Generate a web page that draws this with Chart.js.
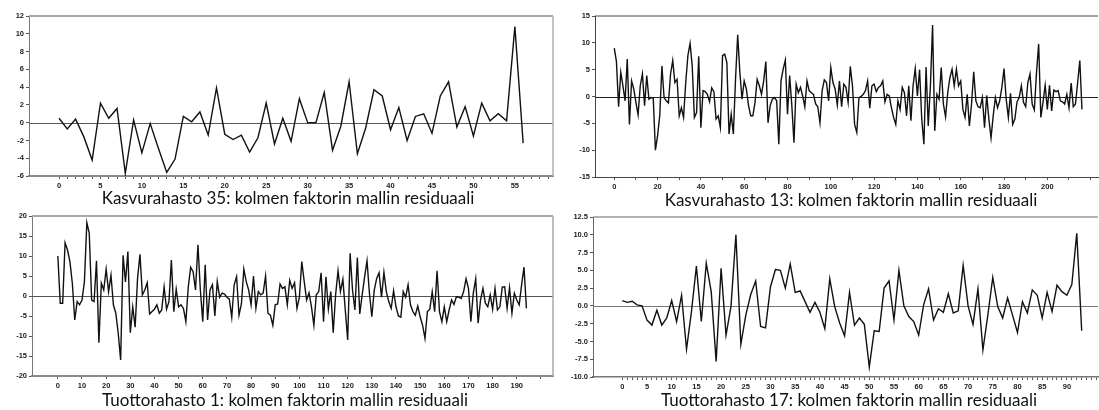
<!DOCTYPE html>
<html><head><meta charset="utf-8">
<script src="https://cdn.jsdelivr.net/npm/chart.js@4.4.1/dist/chart.umd.min.js"></script>
<style>
html,body{margin:0;padding:0;background:#fff;width:1099px;height:410px;overflow:hidden;position:relative}
.pc{position:absolute}
.pc canvas{display:block}
.ttl{position:absolute;font-family:Lato,'Open Sans',sans-serif;color:#111;white-space:nowrap}
</style></head><body>
<div class="pc" id="w1"><canvas id="c1"></canvas></div>
<div class="pc" id="w2"><canvas id="c2"></canvas></div>
<div class="pc" id="w3"><canvas id="c3"></canvas></div>
<div class="pc" id="w4"><canvas id="c4"></canvas></div>
<div class="ttl" id="t1"></div>
<div class="ttl" id="t2"></div>
<div class="ttl" id="t3"></div>
<div class="ttl" id="t4"></div>
<script>
// ---- data ----
const titles = [
  'Kasvurahasto 35: kolmen faktorin mallin residuaali',
  'Kasvurahasto 13: kolmen faktorin mallin residuaali',
  'Tuottorahasto 1: kolmen faktorin mallin residuaali',
  'Tuottorahasto 17: kolmen faktorin mallin residuaali'
];
const kasvu35Residuals = [0.5,-0.7,0.4,-1.6,-4.2,2.2,0.5,1.6,-5.7,0.3,
  -3.4,-0.1,-2.9,-5.6,-4.1,0.7,0.1,1.2,-1.4,3.9,
  -1.3,-1.9,-1.4,-3.3,-1.7,2.2,-2.4,0.5,-2.1,2.7,
  0,0,3.4,-3.1,-0.4,4.6,-3.5,-0.6,3.7,3.0,
  -0.8,1.7,-2.0,0.7,1.0,-1.2,3.0,4.6,-0.5,1.8,
  -1.5,2.2,0.2,1.0,0.2,10.8,-2.3];
const kasvu13Residuals = [9.0,6.5,-1.9,4.5,2.0,-0.8,7.0,-5.2,2.9,1.4,
  -1.1,-3.4,2.0,4.2,-1.7,3.9,-0.5,-0.2,-0.3,-10.0,
  -7.3,-3.6,5.7,-0.2,-0.8,-1.2,4.2,6.7,2.6,3.2,
  -3.6,-2.1,-3.9,2.6,7.6,9.9,5.7,-3.9,-3.0,7.5,
  -5.8,1.1,0.9,0.4,-1.0,1.6,0.9,-4.2,-3.6,-5.8,
  7.6,7.9,6.3,-7.0,-3.3,-7.0,3.2,11.5,4.5,-0.5,
  2.9,1.4,-1.7,-3.6,-3.6,-1.1,3.2,2.0,0.4,2.9,
  6.5,-4.9,-1.7,-0.5,-0.2,-0.8,-8.9,2.9,5.1,6.8,
  -3.3,3.9,-1.7,-8.6,2.3,0.7,1.7,0.1,-1.9,2.9,
  1.1,0.7,0.4,-1.4,-1.9,-4.9,1.1,3.1,2.6,-0.8,
  5.4,2.6,1.4,-1.6,2.9,-1.9,2.3,1.7,-1.1,5.6,
  2.0,-5.2,-6.7,-0.2,0.0,0.4,1.1,2.9,-2.2,2.0,
  2.3,0.9,1.7,2.0,2.9,-1.0,0.4,0.1,-2.1,-3.9,
  -5.2,-0.8,-2.4,1.7,0.7,-3.6,2.0,-4.5,2.0,5.2,
  0.1,5.0,-4.2,-8.9,5.5,-5.5,2.0,13.3,-6.4,0.4,
  -0.5,5.4,-1.4,-3.8,0.7,3.5,5.1,2.0,5.1,2.0,
  2.9,-2.4,-3.9,0.4,-5.5,-1.4,4.6,-0.8,-1.9,-2.1,
  -0.2,-5.8,0.2,-4.2,-7.7,-3.6,-0.2,-2.1,-0.8,1.7,
  5.2,-0.5,-3.9,0.6,-5.2,-4.2,-1.0,-0.2,2.0,-1.1,
  -1.9,2.6,4.2,-1.4,-2.5,4.5,9.8,-3.9,-1.1,2.1,
  -2.4,2.1,-2.7,1.2,0.9,1.1,-0.8,-1.0,-1.4,0.4,
  -2.1,2.5,-1.9,-1.4,2.6,6.7,-2.4];
const tuotto1Residuals = [10,-1.8,-1.8,13.3,11.5,8.6,3.2,-6,-1.4,-2.2,
  -1,3.6,18.3,15.7,-1,-1.4,8.8,-11.7,3.2,1.5,
  6.7,1.1,5.2,-2.2,-4.3,-9.3,-16,10.2,3.5,11.1,
  -9.2,-2.7,-7.8,4.4,10.4,0.3,1.5,3.3,-4.5,-3.9,
  -3.3,-2.2,-4.3,-3.5,2.3,-3.3,-1.4,9.0,-3.9,1.7,
  -2.7,-2.2,-3.1,-6.4,2.3,7.2,6.1,1.5,12.8,1.5,
  -6.4,7.8,-6.0,1.5,2.8,-5.0,3.6,-0.3,0.7,0.5,
  -0.3,-0.8,-5.3,2.8,4.8,-4.8,-2.0,6.7,3.6,1.5,
  -2.2,5.0,-3.1,1.1,0.3,0.7,5.0,-4.3,-4.8,-7.3,
  -2.2,-2.0,3.0,1.9,2.3,-2.2,3.9,1.9,3.3,-3.1,
  -0.3,8.6,3.6,-1.0,0.8,-2.7,-7.3,0.3,1.1,5.8,
  -6.4,4.8,-3.3,1.1,-9.2,0.3,6.3,1.1,4.2,-3.5,
  -11.0,10.7,1.5,-3.5,9.6,-4.5,0.3,4.8,8.8,0.7,
  -5.2,1.5,4.4,5.8,-0.3,5.9,1.1,-1.4,-3.1,1.3,
  -2.7,-5.0,-5.3,1.1,-0.3,2.8,-2.2,-3.9,-4.8,-2.5,
  -5.2,-7.3,-10.6,-3.9,-3.3,1.1,-3.9,6.3,-3.9,-6.4,
  -2.7,-6.4,-3.5,-1.0,-2.1,-0.2,-0.3,-0.6,1.1,4.3,
  1.9,-6.4,0.7,4.3,-6.8,-1.0,1.9,-1.8,-2.7,0.3,
  -3.3,1.9,-3.5,-2.7,2.2,2.3,-3.1,2.1,-4.3,0.7,
  -1.0,-2.2,2.8,7.2,-3.1];
const tuotto17Residuals = [0.75,0.5,0.65,0.15,0,-2,-2.7,-0.6,-2.7,-1.7,
  0.75,-2.2,1.5,-6.1,-0.8,5.6,-2.2,6.0,2,-7.8,
  5.3,-4.1,-0.1,10,-5.4,-1.3,1.6,3.5,-2.9,-3.1,
  2.7,5.1,5,2.5,5.9,1.9,2.1,0.6,-0.9,0.5,
  -0.9,-3.2,3.8,-0.1,-2.4,-4.2,1.9,-2.7,-1.7,-2.6,
  -8.6,-3.5,-3.6,2.5,3.5,-2,5,0,-1.5,-2.2,
  -4.1,0.15,2.4,-2,-0.4,-0.9,1.7,-1,-0.7,5.7,
  0,-2.6,2.4,-6.2,-1.3,4,-0.1,-1.7,1.1,-1.3,
  -3.75,0.6,-1,2.25,1.5,-1.7,1.9,-0.8,2.9,2,
  1.5,3,10.2,-3.5];
// axis tick settings (value ranges and label steps)
const yTicks1 = {min:-6, max:12, step:2};
const yTicks2 = {min:-15, max:15, step:5};
const yTicks3 = {min:-20, max:20, step:5};
const yTicks4 = {min:-10, max:12.5, step:2.5};
const xTicks1 = {min:-3.62, max:59.6, step:1, labelEvery:5, lastLabel:55};
const xTicks2 = {min:-8.9, max:223.4, step:10, labelEvery:20, lastLabel:200};
const xTicks3 = {min:-10.7, max:205.0, step:10, labelEvery:10, lastLabel:190};
const xTicks4 = {min:-5.93, max:96.3, step:1, labelEvery:5, lastLabel:90};

// ---- layout ----
const panels = [
  {canvas:'c1', wrap:'w1', data:kasvu35Residuals, xt:xTicks1, yt:yTicks1, dec:0,
   box:{x:0,y:8,w:560,h:186}, area:{l:29,t:16,r:553,b:176},
   zero:'#5a5a5a', top:'#a8a8a8', topW:2, right:'#b0b0b0', bottom:'#8a8a8a', bottomW:2, left:'#777'},
  {canvas:'c2', wrap:'w2', data:kasvu13Residuals, xt:xTicks2, yt:yTicks2, dec:0,
   box:{x:566,y:8,w:533,h:186}, area:{l:595,t:16,r:1098,b:177},
   zero:'#222', top:'#444', topW:1, right:null, bottom:'#444', bottomW:1, left:'#444'},
  {canvas:'c3', wrap:'w3', data:tuotto1Residuals, xt:xTicks3, yt:yTicks3, dec:0,
   box:{x:0,y:208,w:560,h:187}, area:{l:32,t:216,r:553,b:376},
   zero:'#555', top:'#a8a8a8', topW:2, right:'#a8a8a8', bottom:'#8a8a8a', bottomW:2, left:'#777'},
  {canvas:'c4', wrap:'w4', data:tuotto17Residuals, xt:xTicks4, yt:yTicks4, dec:1,
   box:{x:560,y:209,w:539,h:187}, area:{l:593,t:217,r:1098,b:377},
   zero:'#777', top:'#999', topW:1.5, right:null, bottom:'#777', bottomW:1.5, left:'#666'}
];

const framePlugin = {
  id: 'frame',
  beforeDatasetsDraw(chart, args, o) {
    const {ctx, chartArea: a} = chart;
    const y = chart.scales.y;
    ctx.save();
    const y0 = Math.round(y.getPixelForValue(0)) + 0.5;
    ctx.strokeStyle = o.zero; ctx.lineWidth = 1;
    ctx.beginPath(); ctx.moveTo(a.left, y0); ctx.lineTo(a.right, y0); ctx.stroke();
    ctx.strokeStyle = o.top; ctx.lineWidth = o.topW;
    ctx.beginPath(); ctx.moveTo(a.left, a.top); ctx.lineTo(a.right, a.top); ctx.stroke();
    if (o.right) {
      ctx.strokeStyle = o.right; ctx.lineWidth = 1.5;
      ctx.beginPath(); ctx.moveTo(a.right, a.top); ctx.lineTo(a.right, a.bottom); ctx.stroke();
    }
    ctx.restore();
  }
};

const tickFont = {family:"'Liberation Sans', Arial, sans-serif", size:7.5, weight:'bold'};

panels.forEach(p => {
  const wrap = document.getElementById(p.wrap);
  wrap.style.left = p.box.x + 'px'; wrap.style.top = p.box.y + 'px';
  const cv = document.getElementById(p.canvas);
  cv.width = p.box.w; cv.height = p.box.h;
  cv.style.width = p.box.w + 'px'; cv.style.height = p.box.h + 'px';
  const yW = p.area.l - p.box.x;
  const padT = p.area.t - p.box.y;
  const padR = (p.box.x + p.box.w) - p.area.r;
  const xH = (p.box.y + p.box.h) - p.area.b;
  const pts = p.data.map((v, i) => ({x: i, y: v}));
  new Chart(cv, {
    type: 'line',
    data: {datasets: [{data: pts, borderColor: '#111', borderWidth: 1.4,
      pointRadius: 0, tension: 0, fill: false}]},
    options: {
      responsive: false, animation: false, devicePixelRatio: 1,
      layout: {padding: {top: padT, right: padR, left: 0, bottom: 0}},
      plugins: {legend: {display: false}, tooltip: {enabled: false},
        frame: {zero: p.zero, top: p.top, topW: p.topW, right: p.right}},
      scales: {
        x: {type: 'linear', min: p.xt.min, max: p.xt.max,
          afterFit: s => { s.height = xH; },
          border: {display: true, color: p.bottom, width: p.bottomW},
          grid: {display: true, drawOnChartArea: false, drawTicks: true, tickLength: 3,
            tickColor: c => (c.tick && c.tick.value >= 0) ? '#555' : 'rgba(0,0,0,0)', tickWidth: 1},
          ticks: {stepSize: p.xt.step, includeBounds: false, autoSkip: false, maxRotation: 0,
            padding: 2, font: tickFont, color: '#222',
            callback: v => (v >= 0 && v <= p.xt.lastLabel && Math.abs(v % p.xt.labelEvery) < 1e-6) ? String(v) : ''}},
        y: {type: 'linear', min: p.yt.min, max: p.yt.max,
          afterFit: s => { s.width = yW; },
          border: {display: true, color: p.left, width: 1},
          grid: {display: true, drawOnChartArea: false, drawTicks: true, tickLength: 3, tickColor: '#555'},
          ticks: {stepSize: p.yt.step, includeBounds: false, padding: 2, font: tickFont, color: '#222',
            callback: v => p.dec ? Number(v).toFixed(p.dec) : String(v)}}
      }
    },
    plugins: [framePlugin]
  });
});

// ---- titles ----
const titlePos = [{cx:288, base:204}, {cx:851, base:206}, {cx:285, base:406}, {cx:849, base:406}];
const mctx = document.createElement('canvas').getContext('2d');
mctx.font = '100px Lato';
const fs = 100 * 373 / mctx.measureText(titles[0]).width;
mctx.font = fs + 'px Lato';
const m = mctx.measureText(titles[0]);
const asc = m.fontBoundingBoxAscent, desc = m.fontBoundingBoxDescent;
const baseOff = (fs - asc - desc) / 2 + asc;
titles.forEach((t, i) => {
  const el = document.getElementById('t' + (i + 1));
  el.textContent = t;
  el.style.fontSize = fs + 'px';
  el.style.lineHeight = fs + 'px';
  const w = mctx.measureText(t).width;
  el.style.left = (titlePos[i].cx - w / 2) + 'px';
  el.style.top = (titlePos[i].base - baseOff) + 'px';
});
</script>
</body></html>
